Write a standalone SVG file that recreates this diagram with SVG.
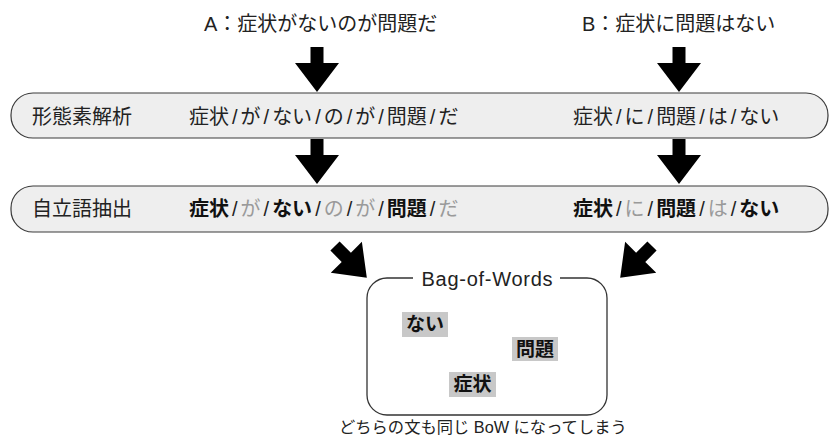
<svg xmlns="http://www.w3.org/2000/svg" width="830" height="437" viewBox="0 0 830 437">
<style>
text{font-family:"Liberation Sans","Noto Sans CJK JP",sans-serif;fill:#222;}
.t20{font-size:20px;}
.b{font-weight:bold;fill:#111;}
.g{fill:#9a9a9a;}
.band{fill:#eeeeee;stroke:#3a3a3a;stroke-width:1.2;}
.arrow{fill:#000;}
.hl{fill:#c8c8c8;}
.box{fill:none;stroke:#333;stroke-width:1.3;}
</style>
<defs>
<path id="arr" class="arrow" d="M-6.5,0 H6.5 V16 H22 L0,45 L-22,16 H-6.5 Z"/>
</defs>

<g id="title-a"><text class="t20" x="204" y="31">A：症状がないのが問題だ</text></g>
<g id="title-b"><text class="t20" x="582" y="31">B：症状に問題はない</text></g>

<g id="band-morph">
<rect class="band" x="11" y="93" width="817" height="45" rx="22" ry="22"/>
<text class="t20" x="32" y="124">形態素解析</text>
<text class="t20" x="189" y="124">症状<tspan dx="3">/</tspan><tspan dx="3">が</tspan><tspan dx="3">/</tspan><tspan dx="3">ない</tspan><tspan dx="3">/</tspan><tspan dx="3">の</tspan><tspan dx="3">/</tspan><tspan dx="3">が</tspan><tspan dx="3">/</tspan><tspan dx="3">問題</tspan><tspan dx="3">/</tspan><tspan dx="3">だ</tspan></text>
<text class="t20" x="573" y="124">症状<tspan dx="3">/</tspan><tspan dx="3">に</tspan><tspan dx="3">/</tspan><tspan dx="3">問題</tspan><tspan dx="3">/</tspan><tspan dx="3">は</tspan><tspan dx="3">/</tspan><tspan dx="3">ない</tspan></text>
</g>

<g id="band-content">
<rect class="band" x="11" y="186" width="817" height="46" rx="22" ry="22"/>
<text class="t20" x="32" y="216">自立語抽出</text>
<text class="t20" x="189" y="216"><tspan class="b">症状</tspan><tspan dx="3">/</tspan><tspan class="g" dx="3">が</tspan><tspan dx="3">/</tspan><tspan class="b" dx="3">ない</tspan><tspan dx="3">/</tspan><tspan class="g" dx="3">の</tspan><tspan dx="3">/</tspan><tspan class="g" dx="3">が</tspan><tspan dx="3">/</tspan><tspan class="b" dx="3">問題</tspan><tspan dx="3">/</tspan><tspan class="g" dx="3">だ</tspan></text>
<text class="t20" x="573" y="216"><tspan class="b">症状</tspan><tspan dx="3">/</tspan><tspan class="g" dx="3">に</tspan><tspan dx="3">/</tspan><tspan class="b" dx="3">問題</tspan><tspan dx="3">/</tspan><tspan class="g" dx="3">は</tspan><tspan dx="3">/</tspan><tspan class="b" dx="3">ない</tspan></text>
</g>

<g id="bow">
<path class="box" d="M413,278 H387 A20,20 0 0 0 367,298 V395 A20,20 0 0 0 387,415 H587 A20,20 0 0 0 607,395 V298 A20,20 0 0 0 587,278 H560"/>
<text x="487" y="285.5" text-anchor="middle" font-size="20" textLength="131" lengthAdjust="spacing">Bag-of-Words</text>
<rect class="hl" x="402" y="312" width="46" height="25"/>
<text class="b" x="425" y="331" font-size="19" text-anchor="middle">ない</text>
<rect class="hl" x="512" y="337" width="46" height="24"/>
<text class="b" x="535" y="355.5" font-size="19" text-anchor="middle">問題</text>
<rect class="hl" x="449" y="372" width="47" height="25"/>
<text class="b" x="472.5" y="391" font-size="19" text-anchor="middle">症状</text>
</g>

<g id="caption"><text x="339" y="433" font-size="16.3">どちらの文も同じ BoW になってしまう</text></g>

<g id="connectors">
<use href="#arr" transform="translate(317,47)"/>
<use href="#arr" transform="translate(679,47)"/>
<use href="#arr" transform="translate(317,139)"/>
<use href="#arr" transform="translate(679,139)"/>
<use href="#arr" transform="translate(335,246) rotate(-45)"/>
<use href="#arr" transform="translate(652,246) rotate(45)"/>
</g>
</svg>
